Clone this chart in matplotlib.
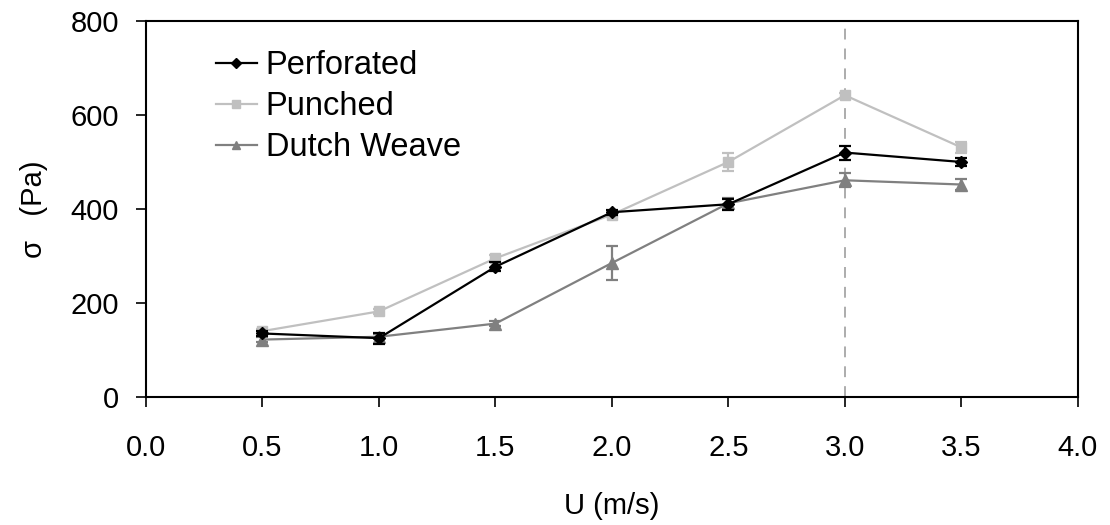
import matplotlib
matplotlib.use("Agg")
import matplotlib.pyplot as plt
from matplotlib.lines import Line2D

plt.rcParams['font.family'] = ['Liberation Sans', 'DejaVu Sans']

U = [0.5, 1.0, 1.5, 2.0, 2.5, 3.0, 3.5]
perforated = [135, 125, 277, 393, 410, 520, 500]
perforated_err = [5, 12, 10, 5, 12, 15, 9]
punched = [140, 182, 295, 388, 500, 642, 531]
punched_err = [5, 5, 6, 6, 19, 5, 12]
dutch = [122, 128, 156, 285, 412, 461, 452]
dutch_err = [5, 5, 6, 37, 12, 15, 11]

xticks = [0.0, 0.5, 1.0, 1.5, 2.0, 2.5, 3.0, 3.5, 4.0]
yticks = [0, 200, 400, 600, 800]

fig = plt.figure(figsize=(11.1, 5.25), dpi=100)
ax = fig.add_axes([0.1315, 0.244, 0.8395, 0.716])

ax.axvline(3.0, color='#A6A6A6', linestyle=(0, (6, 5)), linewidth=1.3, zorder=1)

styles = {
    'Perforated': dict(color='#000000', marker='D', markersize=6),
    'Punched': dict(color='#C0C0C0', marker='s', markersize=7),
    'Dutch Weave': dict(color='#808080', marker='^', markersize=8),
}

ax.errorbar(U, punched, yerr=punched_err, linewidth=1.6, capsize=4.5, elinewidth=1.6,
            capthick=1.6, zorder=2, **styles['Punched'])
ax.errorbar(U, dutch, yerr=dutch_err, linewidth=1.6, capsize=4.5, elinewidth=1.6,
            capthick=1.6, zorder=3, **styles['Dutch Weave'])
ax.errorbar(U, perforated, yerr=perforated_err, linewidth=1.6, capsize=4.5, elinewidth=1.6,
            capthick=1.6, zorder=4, **styles['Perforated'])

ax.set_xlim(0, 4.0)
ax.set_ylim(0, 800)
ax.set_xticks(xticks)
ax.set_xticklabels([f"{t:.1f}" for t in xticks])
ax.set_yticks(yticks)
ax.tick_params(axis='both', direction='out', length=7.5, width=1.2, labelsize=21)
ax.tick_params(axis='x', pad=19)
ax.tick_params(axis='y', pad=12)
for s in ax.spines.values():
    s.set_linewidth(1.5)

ax.set_xlabel('U (m/s)', fontsize=21, labelpad=22)
ax.set_ylabel('σ   (Pa)', fontsize=21, labelpad=16)

names = ['Perforated', 'Punched', 'Dutch Weave']
handles = [Line2D([], [], linewidth=1.6, markersize=styles[n]['markersize'] * 0.8,
                  color=styles[n]['color'], marker=styles[n]['marker']) for n in names]
ax.legend(handles, names, loc='upper left', bbox_to_anchor=(0.061, 0.957), frameon=False,
          fontsize=23.5, handlelength=1.25, handletextpad=0.28, labelspacing=0.31,
          borderaxespad=0.0, borderpad=0.4)

fig.savefig('out.png', dpi=100)
